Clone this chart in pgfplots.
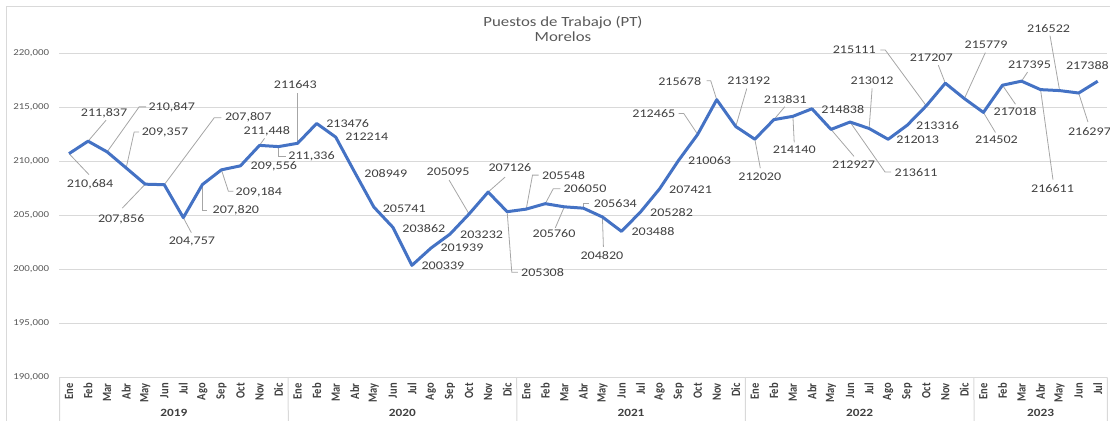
\documentclass[border=0pt]{standalone}
\usepackage{pgfplots}
\pgfplotsset{compat=1.18}
\usepackage{fontspec}
\setmainfont{Carlito}[FakeStretch=1.2]
\newfontfamily\monthfont{Carlito}[FakeStretch=0.8333]
\definecolor{lineblue}{HTML}{4472C4}
\definecolor{gridc}{HTML}{D9D9D9}
\definecolor{labc}{HTML}{404040}
\definecolor{tickc}{HTML}{595959}
\definecolor{ldrc}{HTML}{A6A6A6}
\tikzset{
  dlab/.style={font=\fontsize{8.8}{10}\selectfont, text=labc, inner sep=0pt, anchor=center},
  ldr/.style={draw=ldrc, line width=0.6pt},
}
\newcommand{\lb}[5]{\node[dlab, xshift={0.75pt*(#4)}, yshift={-0.75pt*(#5)}] at (axis cs:#1,#2) {#3};}
\newcommand{\ld}[4]{\draw[ldr] (axis cs:#1,#2) -- ++({0.75pt*(#3)},{-0.75pt*(#4)});}
\newcommand{\ldd}[6]{\draw[ldr] (axis cs:#1,#2) -- ++({0.75pt*(#3)},{-0.75pt*(#4)}) -- ++({0.75pt*(#5)},{-0.75pt*(#6)});}
\begin{document}
\begin{tikzpicture}
\begin{axis}[
  name=ax, at={(0,0)}, anchor=south west,
  scale only axis, width=785.8pt, height=243pt,
  xmin=-0.5, xmax=54.5, ymin=190000, ymax=220000,
  clip=false,
  axis line style={draw=none},
  ymajorgrids, grid style={gridc, line width=0.75pt},
  major tick length=0pt,
  scaled y ticks=false,
  ytick={190000,195000,200000,205000,210000,215000,220000},
  yticklabels={{190,000},{195,000},{200,000},{205,000},{210,000},{215,000},{220,000}},
  yticklabel style={font=\fontsize{6.8}{8}\selectfont, text=tickc, anchor=east, inner sep=0pt, xshift=-7.5pt},
  xtick={0,...,54},
  xticklabels={Ene,Feb,Mar,Abr,May,Jun,Jul,Ago,Sep,Oct,Nov,Dic,
               Ene,Feb,Mar,Abr,May,Jun,Jul,Ago,Sep,Oct,Nov,Dic,
               Ene,Feb,Mar,Abr,May,Jun,Jul,Ago,Sep,Oct,Nov,Dic,
               Ene,Feb,Mar,Abr,May,Jun,Jul,Ago,Sep,Oct,Nov,Dic,
               Ene,Feb,Mar,Abr,May,Jun,Jul},
  xticklabel style={yshift=-4.5pt, rotate=90, anchor=east, inner sep=0pt, font=\monthfont\bfseries\fontsize{9.45}{10}\selectfont, text=labc},
]
% year separators
\foreach \s in {-0.5,11.5,23.5,35.5,47.5,54.5}{
  \edef\tmp{\noexpand\draw[gridc, line width=0.75pt] (axis cs:\s,190000) -- ++(0,-33pt);}\tmp
}
% leader lines
\ld{0}{210684}{20}{21}
\ld{1}{211837}{18}{-21}
\ldd{2}{210847}{32}{-45}{7}{0}
\ldd{3}{209357}{8}{-36}{5}{0}
\ld{4}{207856}{-23}{24}
\ldd{5}{207807}{50}{-67}{7}{0}
\ld{6}{204757}{8}{15}
\ldd{7}{207820}{0}{26}{5}{0}
\ldd{8}{209184}{7}{21.5}{5}{0}
\ld{10}{211448}{5}{-7}
\ldd{11}{211336}{0}{9.4}{7}{0}
\ld{12}{211643}{0}{-50}
\ld{21}{205095}{-20}{-34}
\ld{22}{207126}{17}{-15}
\ldd{23}{205308}{4.6}{60.6}{6}{0}
\ldd{24}{205548}{6.3}{-34}{6}{0}
\ldd{25}{206050}{8}{-15}{7}{0}
\ld{26}{205760}{-9}{21}
\ldd{27}{205634}{0}{-5}{6}{0}
\ld{28}{204820}{1}{30}
\ldd{33}{212465}{-14}{-21}{-5}{0}
\ldd{34}{215678}{-6}{-19}{-4}{0}
\ld{35}{213192}{11}{-38}
\ld{36}{212020}{5.5}{29}
\ld{37}{213831}{11}{-13}
\ld{38}{214140}{1.3}{26}
\ld{40}{212927}{23}{27}
\ldd{41}{213611}{35}{50}{6}{0}
\ld{42}{213012}{3}{-40}
\ldd{45}{215111}{-41}{-55.8}{-5}{0}
\ld{46}{217207}{-7}{-18}
\ld{47}{215779}{21}{-46}
\ld{48}{214502}{12}{20}
\ld{49}{217018}{13}{19}
\ld{50}{217395}{6}{-9}
\ld{51}{216611}{12.4}{90}
\ld{52}{216522}{-9.6}{-55}
\ld{53}{216297}{9.3}{29}
% data line
\addplot[lineblue, line width=2.25pt, line join=round, mark=none] coordinates {
(0,210684) (1,211837) (2,210847) (3,209357) (4,207856) (5,207807) (6,204757) (7,207820) (8,209184) (9,209556) (10,211448) (11,211336)
(12,211643) (13,213476) (14,212214) (15,208949) (16,205741) (17,203862) (18,200339) (19,201939) (20,203232) (21,205095) (22,207126) (23,205308)
(24,205548) (25,206050) (26,205760) (27,205634) (28,204820) (29,203488) (30,205282) (31,207421) (32,210063) (33,212465) (34,215678) (35,213192)
(36,212020) (37,213831) (38,214140) (39,214838) (40,212927) (41,213611) (42,213012) (43,212013) (44,213316) (45,215111) (46,217207) (47,215779)
(48,214502) (49,217018) (50,217395) (51,216611) (52,216522) (53,216297) (54,217388)
};
% data labels
\lb{0}{210684}{210,684}{21}{31}
\lb{1}{211837}{211,837}{16}{-28}
\lb{2}{210847}{210,847}{64.6}{-45}
\lb{3}{209357}{209,357}{38.8}{-36}
\lb{4}{207856}{207,856}{-24}{35}
\lb{5}{207807}{207,807}{84}{-67}
\lb{6}{204757}{204,757}{8.6}{23.4}
\lb{7}{207820}{207,820}{33.5}{26}
\lb{8}{209184}{209,184}{37.4}{22}
\lb{9}{209556}{209,556}{33.4}{0}
\lb{10}{211448}{211,448}{7.3}{-13.7}
\lb{11}{211336}{211,336}{33}{9.4}
\lb{12}{211643}{211643}{-2.3}{-58.3}
\lb{13}{213476}{213476}{31}{0.5}
\lb{14}{212214}{212214}{31}{0}
\lb{15}{208949}{208949}{31}{1}
\lb{16}{205741}{205741}{30.4}{1.3}
\lb{17}{203862}{203862}{31}{1}
\lb{18}{200339}{200339}{31}{0.7}
\lb{19}{201939}{201939}{31}{0}
\lb{20}{203232}{203232}{31.6}{1}
\lb{21}{205095}{205095}{-21}{-42.3}
\lb{22}{207126}{207126}{21.8}{-24.3}
\lb{23}{205308}{205308}{35.4}{61}
\lb{24}{205548}{205548}{37.3}{-34}
\lb{25}{206050}{206050}{39.7}{-15.4}
\lb{26}{205760}{205760}{-10.3}{27.2}
\lb{27}{205634}{205634}{32}{-4.2}
\lb{28}{204820}{204820}{-0.5}{38.8}
\lb{29}{203488}{203488}{31.5}{0.4}
\lb{30}{205282}{205282}{31}{0.7}
\lb{31}{207421}{207421}{31}{0.4}
\lb{32}{210063}{210063}{31}{0.7}
\lb{33}{212465}{212465}{-43.8}{-21}
\lb{34}{215678}{215678}{-37}{-18}
\lb{35}{213192}{213192}{13}{-45.5}
\lb{36}{212020}{212020}{5}{37.5}
\lb{37}{213831}{213831}{11.4}{-20.6}
\lb{38}{214140}{214140}{1.3}{33}
\lb{39}{214838}{214838}{30.8}{0.6}
\lb{40}{212927}{212927}{22.5}{35.6}
\lb{41}{213611}{213611}{66}{50.3}
\lb{42}{213012}{213012}{3}{-47.8}
\lb{43}{212013}{212013}{29.5}{0.7}
\lb{44}{213316}{213316}{30.4}{0.8}
\lb{45}{215111}{215111}{-72}{-55.8}
\lb{46}{217207}{217207}{-14}{-25}
\lb{47}{215779}{215779}{21.7}{-54.3}
\lb{48}{214502}{214502}{13}{27.6}
\lb{49}{217018}{217018}{12.6}{26.5}
\lb{50}{217395}{217395}{8}{-16}
\lb{51}{216611}{216611}{12}{98.7}
\lb{52}{216522}{216522}{-11}{-62.3}
\lb{53}{216297}{216297}{10.8}{38.7}
\lb{54}{217388}{217388}{-10.3}{-16}
% year labels
\node[font=\bfseries\fontsize{8.3}{10}\selectfont, text=labc, yshift=-27pt] at (axis cs:5.5,190000) {2019};
\node[font=\bfseries\fontsize{8.3}{10}\selectfont, text=labc, yshift=-27pt] at (axis cs:17.5,190000) {2020};
\node[font=\bfseries\fontsize{8.3}{10}\selectfont, text=labc, yshift=-27pt] at (axis cs:29.5,190000) {2021};
\node[font=\bfseries\fontsize{8.3}{10}\selectfont, text=labc, yshift=-27pt] at (axis cs:41.5,190000) {2022};
\node[font=\bfseries\fontsize{8.3}{10}\selectfont, text=labc, yshift=-27pt] at (axis cs:51,190000) {2023};
\end{axis}
\begin{scope}[shift={(ax.south west)}]
  \draw[gridc, line width=0.75pt] (-39.375pt,-40pt) -- (-39.375pt,277.5pt) -- (800pt,277.5pt);
  \node[align=center, font=\fontsize{10.5}{11.25}\selectfont, text=tickc] at (377.6pt,261.4pt) {Puestos de Trabajo (PT)\\Morelos};
  \pgfresetboundingbox
  \useasboundingbox (-44.625pt,-33pt) rectangle (787.875pt,282.75pt);
\end{scope}
\end{tikzpicture}
\end{document}
